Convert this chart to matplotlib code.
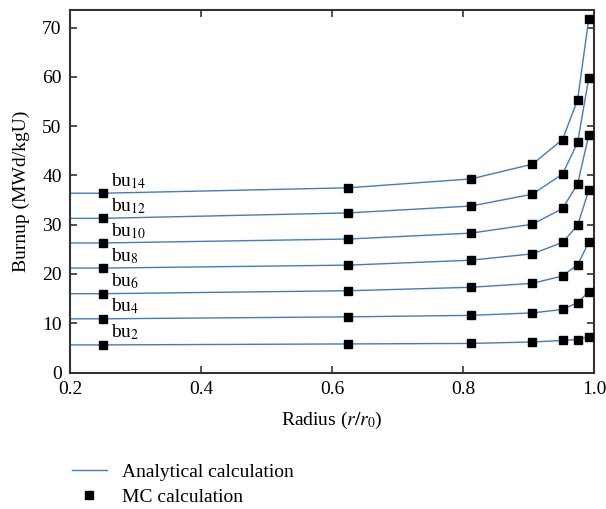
import matplotlib
matplotlib.use("Agg")
import matplotlib.pyplot as plt
from matplotlib.lines import Line2D

plt.rcParams['font.family'] = ['Liberation Serif', 'DejaVu Serif']
plt.rcParams['mathtext.fontset'] = 'stix'

radius = [0.25, 0.625, 0.812, 0.906, 0.952, 0.975, 0.992]
line_radius = [0.2, 0.25, 0.625, 0.812, 0.906, 0.952, 0.975, 0.992]
labels = ["bu$_{14}$", "bu$_{12}$", "bu$_{10}$", "bu$_{8}$", "bu$_{6}$", "bu$_{4}$", "bu$_{2}$"]
bu14 = [36.4, 37.5, 39.3, 42.3, 47.3, 55.4, 71.8]
bu12 = [31.3, 32.4, 33.8, 36.2, 40.3, 46.7, 59.8]
bu10 = [26.3, 27.1, 28.3, 30.1, 33.3, 38.3, 48.2]
bu8 = [21.2, 21.8, 22.8, 24.1, 26.4, 29.9, 37.0]
bu6 = [16.0, 16.6, 17.3, 18.1, 19.6, 21.9, 26.4]
bu4 = [10.9, 11.3, 11.6, 12.1, 12.8, 14.2, 16.4]
bu2 = [5.6, 5.8, 5.9, 6.2, 6.5, 6.7, 7.3]
series = [bu14, bu12, bu10, bu8, bu6, bu4, bu2]

line_color = '#3d7cc9'
fs = 14

fig = plt.figure(figsize=(6.06, 5.09), dpi=100)
ax = fig.add_axes([70/606, 1-372.5/509, (594-70)/606, (372.5-10)/509])

for lab, vals in zip(labels, series):
    ax.plot(line_radius, [vals[0]] + vals, color=line_color, lw=1.0, zorder=2)
    ax.plot(radius, vals, 's', color='black', ms=6, zorder=3)
    ax.text(0.263, vals[0] + 0.5, lab, fontsize=fs, ha='left', va='bottom')

ax.set_xlim(0.2, 1.0)
ax.set_ylim(0, 73.6)
ax.set_xticks([0.2, 0.4, 0.6, 0.8, 1.0])
ax.set_xticklabels(['0.2', '0.4', '0.6', '0.8', '1.0'])
ax.set_yticks([0, 10, 20, 30, 40, 50, 60, 70])
ax.tick_params(direction='in', top=True, right=True, length=5, width=1.2,
               labelsize=fs, color='#333333', pad=6)
for s in ax.spines.values():
    s.set_linewidth(1.5)
    s.set_color('#333333')
ax.set_xlabel('Radius ($r/r_0$)', fontsize=fs, labelpad=9)
ax.set_ylabel('Burnup (MWd/kgU)', fontsize=fs, labelpad=9)

handles = [Line2D([0], [0], color=line_color, lw=1.0),
           Line2D([0], [0], marker='s', ls='none', color='black', ms=6)]
fig.legend(handles, ['Analytical calculation', 'MC calculation'],
           loc='upper left', bbox_to_anchor=(58/606, 1-450/509), frameon=False,
           fontsize=fs, handlelength=1.8, handletextpad=0.8, labelspacing=0.35,
           borderpad=0.2)

fig.savefig('out.png', dpi=100)
